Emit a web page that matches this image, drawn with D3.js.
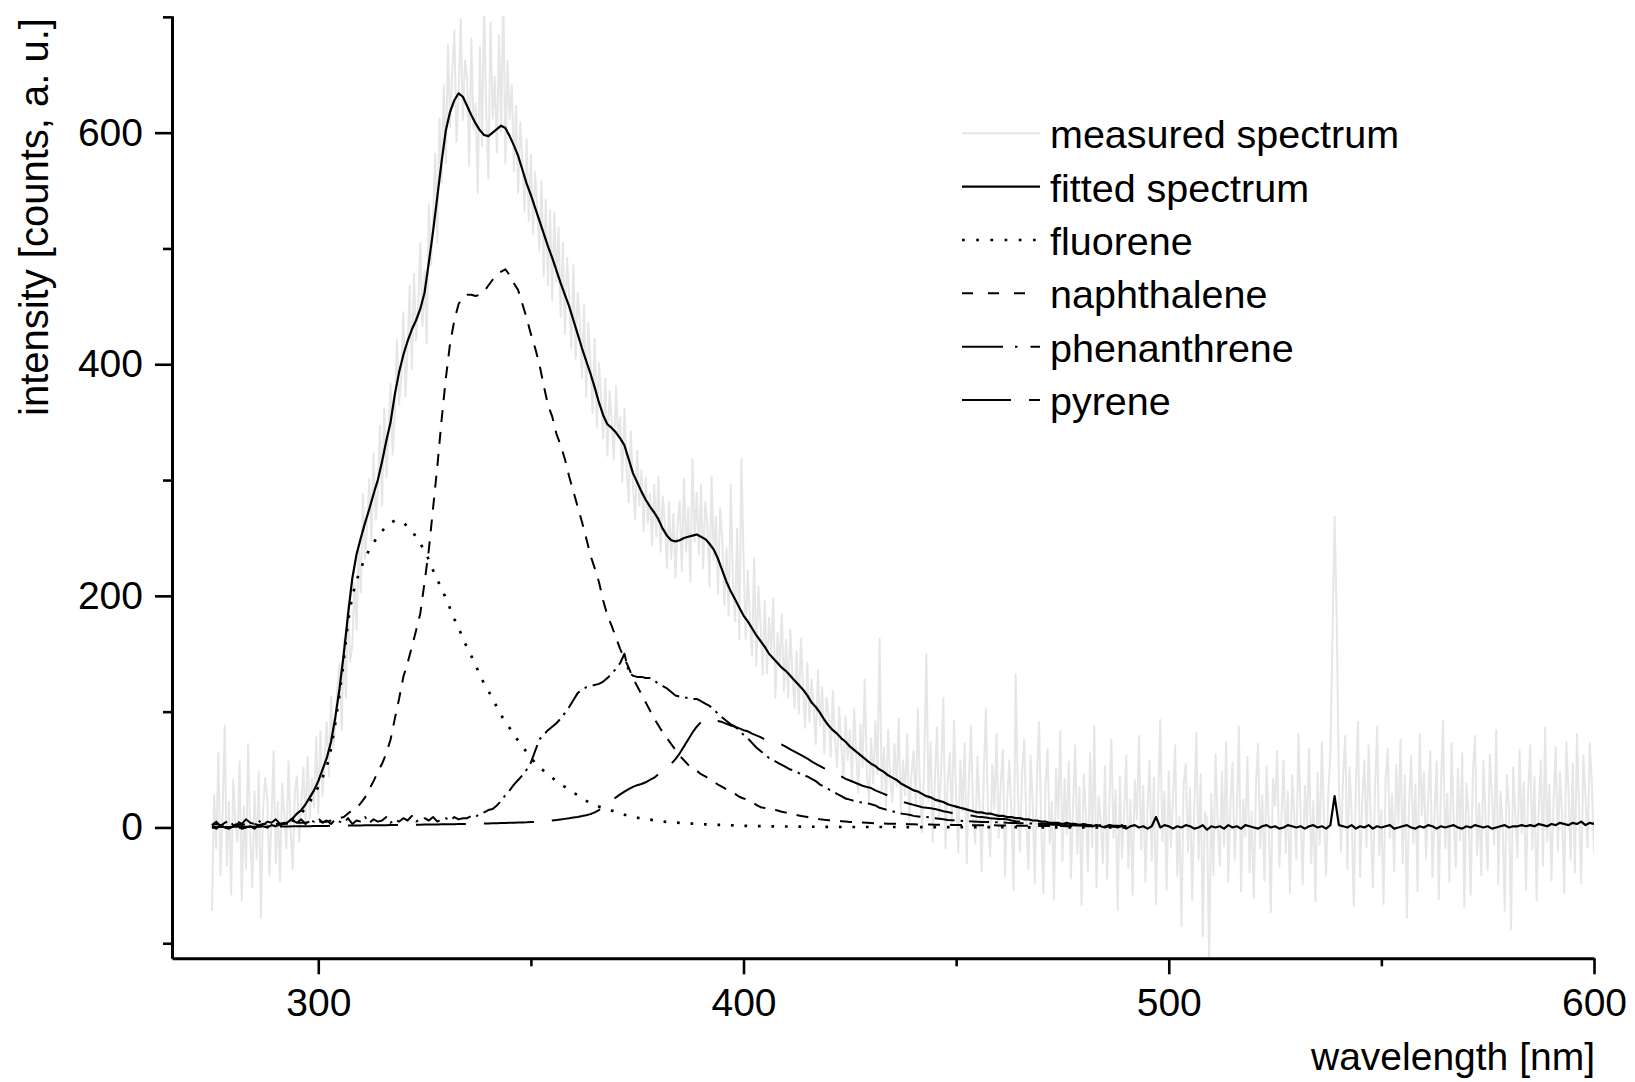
<!DOCTYPE html>
<html>
<head>
<meta charset="utf-8">
<script src="https://cdn.jsdelivr.net/npm/d3@7"></script>
<style>
  body { margin: 0; background: #fff; }
  svg { display: block; font-family: "Liberation Sans", Arial, sans-serif; }
</style>
</head>
<body>
<svg id="chart" width="1635" height="1082"></svg>
<script>
// measured spectrum, 0.5 nm steps from 275 nm
const measuredStart = 275;
const measuredStep = 0.5;
const measured = [
    -72, 28, -18, 64, -41, 12, 88, -33, 22, -58,
    41, 5, -12, 57, -63, 18, -36, 72, -8, -52,
    31, -27, 48, -78, 14, 43, 26, -42, 7, 66,
    -31, 22, -47, 38, 12, -18, 57, -4, -36, 31,
    44, -12, 20, 52, 3, 61, 8, 42, 17, 78,
    12, 83, 27, 62, 91, 44, 113, 69, 88, 122,
    141, 84, 162, 112, 193, 143, 158, 211, 171, 243,
    203, 288, 232, 262, 301, 248, 323, 266, 292, 347,
    278, 362, 302, 341, 383, 322, 358, 421, 365, 388,
    445, 372, 412, 468, 396, 478, 421, 452, 505, 433,
    481, 418, 538, 486, 527, 582, 505, 612, 556, 641,
    574, 676, 605, 652, 688, 592, 632, 698, 611, 662,
    648, 571, 681, 603, 625, 548, 674, 588, 712, 618,
    560, 695, 612, 648, 583, 684, 601, 725, 574, 662,
    612, 641, 567, 623, 548, 609, 575, 532, 594, 524,
    581, 512, 566, 531, 498, 558, 476, 542, 468, 533,
    455, 531, 472, 518, 441, 505, 426, 492, 458, 414,
    486, 405, 462, 437, 388, 451, 372, 436, 401, 358,
    422, 346, 401, 372, 336, 388, 321, 377, 352, 318,
    381, 336, 354, 298, 362, 310, 281, 342, 296, 266,
    325, 278, 308, 256, 302, 263, 288, 244, 296, 251,
    303, 238, 286, 262, 224, 281, 232, 271, 216, 262,
    282, 221, 301, 238, 276, 212, 318, 247, 289, 236,
    296, 224, 281, 262, 208, 303, 231, 268, 202, 276,
    248, 192, 241, 183, 296, 212, 178, 258, 162, 318,
    234, 163, 222, 181, 148, 232, 139, 208, 176, 132,
    196, 133, 181, 152, 198, 112, 168, 141, 184, 118,
    162, 112, 171, 131, 103, 152, 98, 163, 121, 86,
    142, 91, 128, 104, 72, 136, 88, 121, 64, 112,
    97, 61, 118, 76, 52, 104, 71, 43, 96, 58,
    84, 41, 102, 63, 30, 89, 52, 128, 48, 22,
    77, 38, 92, 46, 163, 31, 69, 18, 84, 41,
    22, 72, 35, 94, 12, 58, 28, 81, 5, 47,
    66, 18, 102, 31, -4, 56, 150, 23, 74, -12,
    41, 86, 8, 52, 112, -18, 38, 64, 3, 92,
    27, -22, 58, 14, 73, -31, 42, 88, 6, -14,
    61, 19, -38, 47, 102, 8, -25, 54, 16, 81,
    -9, 38, 67, -42, 24, 58, 11, -54, 132, 33,
    -21, 47, 76, 5, -36, 62, 21, -48, 44, 91,
    3, -57, 36, 68, -14, 22, -62, 51, 8, 83,
    -29, 42, -6, 57, -44, 19, 71, -23, 35, -67,
    46, 12, -38, 64, -17, 88, -52, 27, 6, -31,
    53, -44, 18, 76, -9, 32, -71, 44, -26, 12,
    62, -35, 24, -58, 41, 7, 79, -19, 36, -47,
    15, 58, -29, 43, -66, 22, 93, -12, 31, -54,
    48, -17, 26, 71, -42, 9, -85, 38, 55, -21,
    34, -63, 17, 82, -28, 46, -94, 13, 8, -116,
    29, -41, 63, 5, -33, 48, -16, 74, -47, 21,
    56, -28, 11, 87, -55, 24, -8, 61, -39, 14,
    -61, 37, 72, -18, 28, -46, 53, 6, -73, 42,
    19, 66, -34, 8, 58, -22, 31, -57, 45, 12,
    -27, 81, 14, -49, 36, 2, 68, -31, 23, -64,
    47, -15, 74, 9, -42, 28, 63, 165, 268, 180,
    40, -21, 46, 79, -36, 52, 13, -68, 37, 91,
    -43, 24, 58, -17, 71, 6, -52, 33, 87, -24,
    15, -66, 42, 68, -9, 29, -38, 54, 3, 76,
    -31, 45, -78, 19, 62, -14, 37, -55, 81, 10,
    48, -27, 24, 66, -43, 13, 57, -62, 35, 92,
    -18, 29, -47, 73, 8, -34, 51, -11, 64, -69,
    38, 12, -58, 46, 79, -24, 21, -41, 58, 6,
    -37, 63, 27, -15, 84, -49, 31, 4, -72, 45,
    18, -88, 52, 11, -26, 67, -5, 39, -54, 28,
    71, -19, 44, -63, 15, 58, -33, 86, -12, 37,
    -46, 23, 69, -21, 48, 9, -57, 74, 32, -28,
    55, -39, 81, 14, -48, 62, 27, -17, 73, 38,
    -22
];

// fitted spectrum, 1 nm steps from 275 nm
const fittedStart = 275;
const fittedStep = 1;
const fitted = [
    1, -1, 2, 0, -1, 1, 2, -1, 0, 1,
    -1, 2, 1, 0, 2, 1, 3, 3, 5, 8,
    12, 15, 20, 26, 32, 40, 50, 60, 74, 95,
    120, 150, 184, 215, 236, 250, 263, 275, 288, 300,
    316, 334, 350, 374, 393, 408, 420, 430, 438, 448,
    462, 488, 515, 545, 575, 602, 618, 628, 634, 631,
    623, 615, 608, 602, 598, 597, 600, 603, 606, 604,
    597, 589, 580, 568, 556, 546, 535, 524, 513, 502,
    492, 481, 470, 460, 450, 438, 426, 414, 403, 392,
    380, 367, 356, 348, 345, 341, 336, 330, 318, 306,
    298, 290, 283, 277, 272, 266, 258, 252, 248, 247,
    248, 250, 251, 252, 253, 251, 249, 245, 240, 232,
    222, 212, 204, 197, 190, 183, 178, 172, 166, 161,
    156, 150, 146, 142, 138, 135, 131, 127, 123, 119,
    114, 108, 104, 99, 93, 88, 84, 81, 77, 74,
    70, 67, 64, 61, 58, 55, 53, 50, 48, 45,
    43, 41, 38, 36, 34, 32, 31, 29, 27, 26,
    24, 23, 22, 20, 19, 18, 17, 16, 15, 14,
    13, 13, 12, 12, 11, 10, 10, 9, 9, 8,
    8, 7, 7, 6, 6, 5, 5, 4, 4, 4,
    3, 4, 3, 3, 2, 3, 2, 1, 2, 1,
    0, 2, 1, 0, 2, -1, 1, 2, 0, 1,
    -1, 1, 9, 0, 2, 1, -1, 1, 0, 2,
    1, -1, 0, 2, -2, 1, 0, 1, -1, 2,
    0, 1, -1, 2, 1, 0, -1, 1, 2, 0,
    1, -1, 0, 2, 1, 0, 1, -1, 1, 2,
    0, 1, -1, 2, 27, 2, 1, 0, 2, -1,
    1, 0, 2, -1, 1, 0, 1, 2, -1, 0,
    1, 2, 0, -1, 1, 0, 2, 1, -1, 1,
    0, 1, 2, 0, -1, 1, 0, 2, 1, 0,
    1, -1, 0, 1, 2, 0, 1, 1, 2, 1,
    2, 1, 3, 2, 1, 3, 2, 4, 3, 2,
    4, 3, 5, 2, 4, 3
];

// fitted components, 1 nm steps from 275 nm to 490 nm
const componentStart = 275;
const componentStep = 1;
const fluorene = [
    0, 0, 0, 0, 0, 0, 0, 0, 0, 0,
    0, 0, 0.5, 0.5, 1, 1.5, 2, 3, 4, 6,
    9, 12, 17, 22, 28, 35, 43, 52, 68, 90,
    115, 145, 178, 200, 213, 224, 232, 240, 246, 251,
    256, 260, 263, 265, 265, 263, 260, 256, 251, 245,
    239, 231, 222, 214, 206, 198, 189, 180, 172, 164,
    155, 148, 140, 132, 124, 118, 111, 104, 97, 91,
    86, 80, 75, 70, 65, 60, 56, 52, 49, 46,
    43, 40, 37, 35, 32, 30, 28, 25, 23, 21,
    19.5, 18, 17, 16, 14.5, 13.5, 12, 11, 10, 9,
    8.4, 7.8, 7.3, 6.8, 6.2, 5.6, 5.1, 4.8, 4.5, 4.2,
    3.9, 3.7, 3.5, 3.3, 3.1, 2.9, 2.7, 2.5, 2.4, 2.2,
    2.1, 2, 1.9, 1.7, 1.6, 1.4, 1.3, 1.3, 1.2, 1.1,
    1.1, 1, 1, 0.9, 0.9, 0.8, 0.8, 0.7, 0.7, 0.7,
    0.6, 0.6, 0.6, 0.5, 0.5, 0.5, 0.5, 0.5, 0.4, 0.4,
    0.4, 0.4, 0.4, 0.4, 0.4, 0.4, 0.4, 0.4, 0.4, 0.4,
    0.4, 0.4, 0.4, 0.3, 0.3, 0.3, 0.3, 0.3, 0.3, 0.3,
    0.3, 0.3, 0.3, 0.3, 0.2, 0.2, 0.2, 0.2, 0.2, 0.2,
    0.2, 0.2, 0.2, 0.2, 0.2, 0.2, 0.2, 0.2, 0.2, 0.2,
    0.2, 0.2, 0.1, 0.1, 0.1, 0.1, 0.1, 0.1, 0.1, 0.1,
    0.1, 0.1, 0.1, 0.1, 0.1, 0.1, 0.1, 0.1, 0.1, 0.1,
    0.1, 0.1, 0.1, 0.1, 0.1, 0.1
];
const naphthalene = [
    2, 3, 2, 3, 2, 2, 3, 2, 3, 2,
    3, 2, 3, 3, 2, 3, 3, 4, 3, 4,
    4, 4, 4, 5, 5, 5, 5, 5, 6, 7,
    8, 9, 12, 15, 17, 21, 26, 33, 40, 48,
    55, 64, 76, 94, 111, 130, 142, 156, 170, 185,
    212, 240, 276, 312, 352, 388, 418, 438, 452, 458,
    460, 460, 459, 460, 463, 468, 473, 477, 480, 482,
    477, 470, 464, 452, 440, 426, 414, 400, 382, 365,
    355, 340, 330, 318, 303, 290, 277, 264, 250, 235,
    224, 212, 196, 183, 174, 164, 154, 146, 138, 129,
    122, 115, 108, 101, 94, 88, 82, 77, 72, 67,
    62, 58, 54, 51, 49, 46, 44, 42, 39.5, 37,
    35, 33, 31, 29, 26.5, 25, 24, 22, 19.5, 17.5,
    16.8, 16.2, 15.6, 14.6, 13.6, 12.8, 12, 11.2, 10.4, 9.6,
    9, 8.3, 7.7, 7.1, 6.6, 6.2, 6, 5.7, 5.4, 5.1,
    4.8, 4.6, 4.4, 4.2, 4, 3.8, 3.6, 3.5, 3.4, 3.3,
    3.2, 3.1, 3, 2.9, 2.8, 2.7, 2.6, 2.6, 2.5, 2.5,
    2.4, 2.4, 2.3, 2.3, 2.2, 2.2, 2.1, 2.1, 2, 2,
    2, 1.9, 1.9, 1.8, 1.8, 1.7, 1.7, 1.6, 1.6, 1.5,
    1.5, 1.5, 1.4, 1.4, 1.4, 1.3, 1.3, 1.3, 1.2, 1.2,
    1.2, 1.1, 1.1, 1.1, 1, 1, 1, 1, 0.9, 0.9,
    0.9, 0.9, 0.8, 0.8, 0.8, 0.8
];
const phenanthrene = [
    2, 5, 1, 4, 6, 2, 5, 3, 7, 4,
    3, 6, 2, 5, 4, 7, 3, 5, 2, 6,
    4, 7, 3, 6, 5, 8, 4, 6, 3, 7,
    5, 4, 8, 3, 6, 5, 9, 4, 7, 5,
    6, 9, 4, 7, 5, 8, 6, 10, 5, 7,
    8, 6, 9, 5, 7, 8, 6, 9, 7, 8,
    8, 10, 9, 12, 13, 15, 16, 19, 23, 28,
    32, 37, 41, 45, 50, 56, 66, 76, 80, 84,
    87, 90, 94, 99, 104, 110, 116, 119, 121, 122,
    123, 124, 126, 129, 133, 137, 142, 150, 134, 131,
    130, 130, 129, 129, 127, 124, 122, 120, 117, 114,
    113, 112, 112, 111, 111, 109, 107, 105, 102, 98,
    95, 92, 89, 87, 84, 80, 77, 73, 69, 66,
    63, 60, 58, 56, 54, 52, 50, 49, 47, 45,
    44, 42, 40, 37, 35, 33, 31, 29, 27, 25,
    24, 23, 22, 21.5, 21, 20, 19, 17, 16, 15,
    14, 13, 12, 11.5, 11, 10, 9.5, 9, 9, 8.5,
    8, 7.5, 7, 6.5, 6.3, 6, 5.8, 5.6, 5.4, 5.2,
    5, 4.8, 4.7, 4.6, 4.5, 4.4, 4.2, 4, 3.9, 3.8,
    3.7, 3.6, 3.5, 3.4, 3.3, 3.2, 3.1, 3, 2.9, 2.8,
    2.7, 2.6, 2.5, 2.4, 2.3, 2.2, 2.1, 2, 1.9, 1.8,
    1.7, 1.6, 1.5, 1.4, 1.3, 1.2
];
const pyrene = [
    0.3, 0.3, 0.4, 0.4, 0.4, 0.5, 0.5, 0.5, 0.6, 0.6,
    0.6, 0.7, 0.7, 0.7, 0.8, 0.8, 0.8, 0.9, 0.9, 1,
    1, 1, 1.1, 1.1, 1.2, 1.2, 1.3, 1.3, 1.4, 1.4,
    1.5, 1.5, 1.6, 1.6, 1.7, 1.7, 1.8, 1.8, 1.9, 1.9,
    2, 2, 2.1, 2.1, 2.2, 2.2, 2.3, 2.3, 2.4, 2.4,
    2.5, 2.5, 2.6, 2.6, 2.7, 2.7, 2.8, 2.8, 2.9, 2.9,
    3, 3.1, 3.2, 3.3, 3.4, 3.5, 3.6, 3.7, 3.8, 3.9,
    4, 4.1, 4.2, 4.3, 4.4, 4.6, 4.8, 5, 5.3, 5.6,
    6, 6.4, 6.9, 7.4, 7.9, 8.5, 9.1, 9.8, 10.6, 11.5,
    13, 15, 18, 21, 23.5, 26, 28.5, 31, 33, 35,
    36.5, 37.5, 39, 41, 43, 46, 49, 52, 55, 59,
    64, 70, 76, 82, 87, 91, 93, 93.5, 93, 92,
    91, 89.5, 88, 87, 85.5, 84, 83, 81, 79.5, 78,
    76, 74.5, 73.5, 72.5, 71.5, 69.5, 67.5, 65.5, 63.5, 61.5,
    59.5, 57, 55, 53, 51, 49.5, 48, 46.5, 44, 42,
    40.5, 39, 37.5, 36, 35, 34, 32, 30.5, 29, 27.5,
    26, 24.5, 23, 21.5, 20.5, 19.5, 18.5, 17.5, 17, 16.5,
    16, 15, 14, 13.3, 12.5, 12, 11.5, 11, 10.5, 10,
    9.3, 9, 8.5, 8, 7.7, 7.4, 7.2, 7, 6, 5.3,
    5, 4.5, 4, 3.6, 3.3, 3, 2.8, 2.6, 2.4, 2.2,
    2, 1.9, 1.8, 1.7, 1.6, 1.5, 1.4, 1.3, 1.2, 1.1,
    1, 1, 0.9, 0.9, 0.8, 0.8
];

const xTicks = [300, 400, 500, 600];
const xMinorTicks = [350, 450, 550];
const yTicks = [0, 200, 400, 600];
const yMinorTicks = [-100, 100, 300, 500, 700];
const legendLabels = ["measured spectrum", "fitted spectrum", "fluorene", "naphthalene", "phenanthrene", "pyrene"];

// line styles per series (plot and legend dash patterns differ slightly)
const seriesStyle = {
    "measured spectrum": { stroke: "#e6e6e6", width: 2, dash: null, legendDash: null },
    "fitted spectrum": { stroke: "#000", width: 2.2, dash: null, legendDash: null },
    "fluorene": { stroke: "#000", width: 2.7, dash: "2.7,10.8", legendDash: "2.7,11.5" },
    "naphthalene": { stroke: "#000", width: 2, dash: "12,10", legendDash: "11,15" },
    "phenanthrene": { stroke: "#000", width: 2, dash: "20,6,2.5,6", legendDash: "41,12,2.5,13" },
    "pyrene": { stroke: "#000", width: 2, dash: "50,18", legendDash: "49,18" }
};

const toPoints = (values, start, step) => values.map((v, i) => ({ nm: start + i * step, value: v }));

const svg = d3.select("#chart");

const xScale = d3.scaleLinear().domain([265.6, 600]).range([172, 1594]);
const yScale = d3.scaleLinear().domain([-113, 701]).range([958.3, 15.7]);

svg.append("rect")
    .attr("width", 1635)
    .attr("height", 1082)
    .attr("fill", "#fff");

// clip lines to the plot area
svg.append("clipPath")
    .attr("id", "plot-clip")
    .append("rect")
    .attr("x", xScale.range()[0])
    .attr("y", yScale.range()[1])
    .attr("width", xScale.range()[1] - xScale.range()[0])
    .attr("height", yScale.range()[0] - yScale.range()[1]);

const line = d3.line()
    .x(d => xScale(d.nm))
    .y(d => yScale(d.value));

const series = [
    { name: "measured spectrum", points: toPoints(measured, measuredStart, measuredStep) },
    { name: "fluorene", points: toPoints(fluorene, componentStart, componentStep) },
    { name: "naphthalene", points: toPoints(naphthalene, componentStart, componentStep) },
    { name: "phenanthrene", points: toPoints(phenanthrene, componentStart, componentStep) },
    { name: "pyrene", points: toPoints(pyrene, componentStart, componentStep) },
    { name: "fitted spectrum", points: toPoints(fitted, fittedStart, fittedStep) }
];

const plot = svg.append("g").attr("clip-path", "url(#plot-clip)");
series.forEach(s => {
    const style = seriesStyle[s.name];
    plot.append("path")
        .datum(s.points)
        .attr("d", line)
        .attr("fill", "none")
        .attr("stroke", style.stroke)
        .attr("stroke-width", style.width)
        .attr("stroke-linejoin", "round")
        .attr("stroke-dasharray", style.dash);
});

// axes
const styleAxis = (g) => {
    g.attr("font-size", 39).attr("font-family", null);
    g.selectAll(".domain").attr("stroke", "#000").attr("stroke-width", 3);
    g.selectAll(".tick line").attr("stroke", "#000").attr("stroke-width", 2.6);
    g.selectAll(".tick text").attr("fill", "#000");
};

svg.append("g")
    .attr("transform", "translate(0," + yScale.range()[0] + ")")
    .call(d3.axisBottom(xScale).tickValues(xMinorTicks).tickSize(8).tickSizeOuter(0).tickFormat(""))
    .call(g => g.select(".domain").remove())
    .call(styleAxis);
svg.append("g")
    .attr("transform", "translate(0," + yScale.range()[0] + ")")
    .call(d3.axisBottom(xScale).tickValues(xTicks).tickSize(16).tickSizeOuter(0).tickPadding(14))
    .call(styleAxis);

svg.append("g")
    .attr("transform", "translate(" + xScale.range()[0] + ",0)")
    .call(d3.axisLeft(yScale).tickValues(yMinorTicks).tickSize(9).tickSizeOuter(0).tickFormat(""))
    .call(g => g.select(".domain").remove())
    .call(styleAxis);
svg.append("g")
    .attr("transform", "translate(" + xScale.range()[0] + ",0)")
    .call(d3.axisLeft(yScale).tickValues(yTicks).tickSize(17).tickSizeOuter(0).tickPadding(12))
    .call(styleAxis);

// axis titles
svg.append("text")
    .attr("transform", "translate(48,18) rotate(-90)")
    .attr("text-anchor", "end")
    .attr("font-size", 40)
    .text("intensity [counts, a. u.]");
svg.append("text")
    .attr("x", 1595)
    .attr("y", 1070)
    .attr("text-anchor", "end")
    .attr("font-size", 39)
    .text("wavelength [nm]");

// legend
const legend = svg.selectAll(".legend")
    .data(legendLabels)
    .enter()
    .append("g")
    .attr("class", "legend")
    .attr("transform", (d, i) => "translate(962," + (133.3 + i * 53.35) + ")");
legend.append("line")
    .attr("x1", 0)
    .attr("x2", 78)
    .attr("stroke", d => seriesStyle[d].stroke)
    .attr("stroke-width", d => seriesStyle[d].width)
    .attr("stroke-dasharray", d => seriesStyle[d].legendDash);
legend.append("text")
    .attr("x", 88)
    .attr("y", 15)
    .attr("font-size", 39.5)
    .text(d => d);
</script>
</body>
</html>
